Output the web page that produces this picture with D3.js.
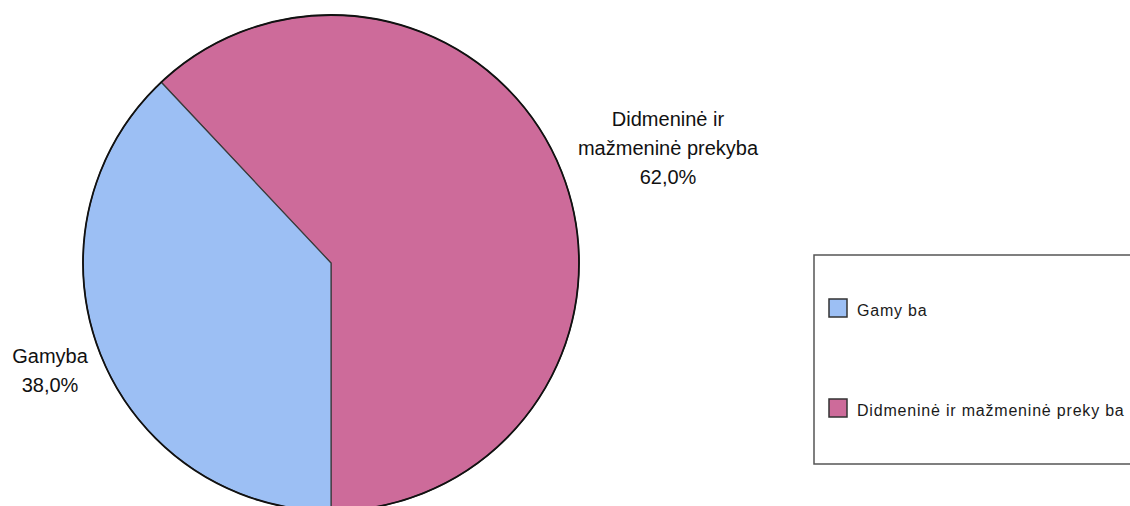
<!DOCTYPE html>
<html><head><meta charset="utf-8">
<script src="https://cdn.jsdelivr.net/npm/d3@7"></script>
<style>html,body{margin:0;padding:0;background:#fff;overflow:hidden}</style>
</head><body>
<svg id="chart" width="1130" height="506"></svg>
<script>
const categories = ["Didmeninė ir mažmeninė prekyba", "Gamyba"];
const values = [62.0, 38.0];
const labelLines = [["Didmeninė ir", "mažmeninė prekyba", "62,0%"], ["Gamyba", "38,0%"]];
const legendLabels = ["Gamy ba", "Didmeninė ir mažmeninė preky ba"];
const legendOrder = [1, 0];
const colors = ["#cd6b9a", "#9cbff4"];

const svg = d3.select("#chart");
const cx = 331, cy = 263, r = 248;
const start = -43.2 * Math.PI / 180;
const pie = d3.pie().sort(null).value(d => d).startAngle(start).endAngle(start + 2 * Math.PI);
const arcs = pie(values);
const arc = d3.arc().innerRadius(0).outerRadius(r);

const g = svg.append("g").attr("transform", `translate(${cx},${cy})`);
g.selectAll("path").data(arcs).join("path")
  .attr("d", arc)
  .attr("fill", (d, i) => colors[i])
  .attr("stroke", "#3a3a3a")
  .attr("stroke-width", 1.2);
g.append("circle").attr("r", r).attr("fill", "none").attr("stroke", "#111").attr("stroke-width", 1.8);

const font = "'Liberation Sans', Arial, sans-serif";
const labelPos = [[668, 126], [50, 363]];
labelLines.forEach((lines, i) => {
  const t = svg.append("text").attr("font-family", font).attr("font-size", 20)
    .attr("fill", "#111").attr("text-anchor", "middle");
  lines.forEach((s, j) => t.append("tspan").attr("x", labelPos[i][0]).attr("y", labelPos[i][1] + j * 29).text(s));
});

// legend
svg.append("rect").attr("x", 814).attr("y", 255).attr("width", 330).attr("height", 209)
  .attr("fill", "#fff").attr("stroke", "#555").attr("stroke-width", 1.5);
const ly = d3.scalePoint().domain(legendOrder).range([299, 399]);
legendOrder.forEach((ci, k) => {
  const y = ly(ci);
  svg.append("rect").attr("x", 829).attr("y", y).attr("width", 18).attr("height", 18)
    .attr("fill", colors[ci]).attr("stroke", "#333").attr("stroke-width", 1.5);
  svg.append("text").attr("x", 857).attr("y", y + 17).attr("font-family", font)
    .attr("font-size", 16).attr("letter-spacing", 0.8).attr("fill", "#1a1a1a").text(legendLabels[k]);
});
</script>
</body></html>
